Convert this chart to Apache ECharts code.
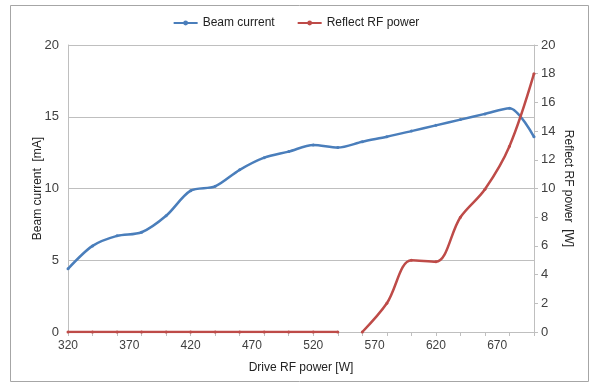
<!DOCTYPE html>
<html>
<head>
<meta charset="utf-8">
<script src="https://cdn.jsdelivr.net/npm/echarts@6/dist/echarts.min.js"></script>
<style>
  html, body { margin: 0; padding: 0; background: #fff; }
  #chart { width: 592px; height: 383px; }
</style>
</head>
<body>
<div id="chart"></div>
<script>
// drive RF power [W] (x values, every 20 W)
const drivePower = [320, 340, 360, 380, 400, 420, 440, 460, 480, 500,
                    520, 540, 560, 580, 600, 620, 640, 660, 680, 700];
// beam current [mA]
const beamCurrent = [4.4, 6.0, 6.7, 6.95, 8.1, 9.85, 10.15, 11.3, 12.15, 12.57,
                     13.03, 12.85, 13.26, 13.61, 14.0, 14.4, 14.8, 15.2, 15.6, 13.6];
// reflect RF power [W]
const reflectPower = [0, 0, 0, 0, 0, 0, 0, 0, 0, 0,
                      0, 0, 0, 2.0, 5.0, 4.9, 8.0, 9.95, 12.95, 18.0];
// the red line is broken between these two points in the original
const reflectGapAt = 550;

const xTickLabels = [320, 370, 420, 470, 520, 570, 620, 670];

const blue = "#4a7ebb";
const red = "#be4b48";
const gray = "#bfbfbf";
const txt = "#404040";
const font = "Liberation Sans";

let beamData = drivePower.map((x, i) => [x, beamCurrent[i]]);
let reflectData = [];
drivePower.forEach((x, i) => {
  if (x > reflectGapAt && reflectData.length && reflectData[reflectData.length - 1][0] < reflectGapAt) {
    reflectData.push([reflectGapAt, null]); // gap
  }
  reflectData.push([x, reflectPower[i]]);
});

let mycharts = echarts.init(document.getElementById("chart"));
let option = {
  animation: false,
  textStyle: { fontFamily: font },
  graphic: [
    {
      type: "rect",
      shape: { x: 10.5, y: 5.5, width: 578, height: 376 },
      style: { fill: "none", stroke: "#a6a6a6", lineWidth: 1 },
      silent: true,
    },
  ],
  legend: {
    top: 12,
    left: "center",
    itemWidth: 24,
    itemHeight: 6,
    itemGap: 22,
    textStyle: { color: "#222", fontSize: 12, fontFamily: font },
    data: ["Beam current", "Reflect RF power"],
  },
  grid: { left: 68, right: 58, top: 45, bottom: 51 },
  xAxis: [
    {
      type: "value",
      min: 320,
      max: 700,
      interval: 50,
      name: "Drive RF power [W]",
      nameLocation: "middle",
      nameGap: 30,
      nameTextStyle: { color: "#222", fontSize: 12, fontFamily: font },
      axisLine: { show: true, lineStyle: { color: gray } },
      axisTick: { show: false },
      splitLine: { show: false },
      axisLabel: {
        color: txt,
        fontSize: 12,
        margin: 8,
        showMaxLabel: false,
        formatter: (v) => (xTickLabels.includes(v) ? String(v) : ""),
      },
    },
    {
      // minor tick marks every 20 W
      type: "value",
      position: "bottom",
      min: 320,
      max: 700,
      interval: 20,
      axisLine: { show: false },
      axisTick: { show: true, length: 4, lineStyle: { color: gray } },
      axisLabel: { show: false },
      splitLine: { show: false },
    },
  ],
  yAxis: [
    {
      type: "value",
      min: 0,
      max: 20,
      interval: 5,
      name: "Beam current  [mA]",
      nameLocation: "middle",
      nameGap: 24,
      nameMoveOverlap: false,
      nameTextStyle: { color: "#222", fontSize: 12, fontFamily: font },
      axisLine: { show: true, lineStyle: { color: gray } },
      axisTick: { show: false },
      axisLabel: { color: txt, fontSize: 13, margin: 9 },
      splitLine: { show: true, lineStyle: { color: gray, width: 1 } },
    },
    {
      type: "value",
      min: 0,
      max: 20,
      interval: 2,
      position: "right",
      name: "Reflect RF power  [W]",
      nameLocation: "middle",
      nameGap: 28,
      nameMoveOverlap: false,
      nameRotate: -90,
      nameTextStyle: { color: "#222", fontSize: 12, fontFamily: font },
      axisLine: { show: true, lineStyle: { color: gray } },
      axisTick: { show: true, length: 4, lineStyle: { color: gray } },
      axisLabel: { color: txt, fontSize: 13, margin: 7 },
      splitLine: { show: false },
    },
  ],
  series: [
    {
      name: "Beam current",
      type: "line",
      xAxisIndex: 0,
      yAxisIndex: 0,
      smooth: 0.3,
      symbol: "circle",
      symbolSize: 3,
      lineStyle: { color: blue, width: 2.5 },
      itemStyle: { color: blue },
      data: beamData,
    },
    {
      name: "Reflect RF power",
      type: "line",
      xAxisIndex: 0,
      yAxisIndex: 1,
      smooth: 0.35,
      connectNulls: false,
      symbol: "circle",
      symbolSize: 3,
      lineStyle: { color: red, width: 2.5 },
      itemStyle: { color: red },
      data: reflectData,
    },
  ],
};
mycharts.setOption(option);
</script>
</body>
</html>
